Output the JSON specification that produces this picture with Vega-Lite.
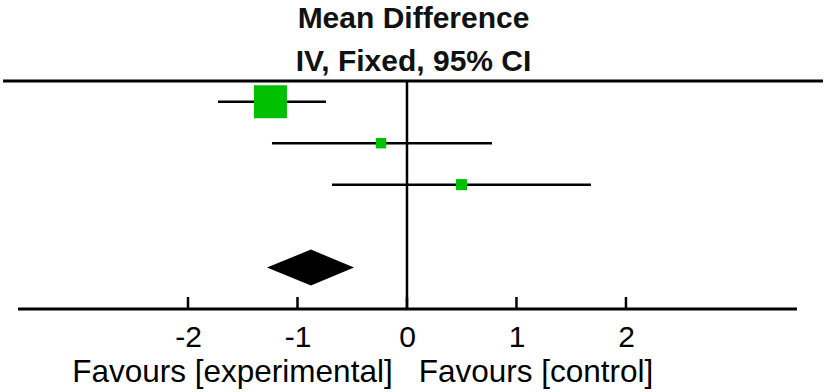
{
  "$schema": "https://vega.github.io/schema/vega-lite/v6.json",
  "width": 827,
  "height": 228,
  "autosize": {"type": "none"},
  "padding": {"top": 81, "bottom": 83, "left": 0, "right": 0},
  "background": "white",
  "config": {"view": {"stroke": null}},
  "title": {
    "text": ["Mean Difference", "IV, Fixed, 95% CI"],
    "font": "Liberation Sans",
    "fontSize": 30,
    "fontWeight": "bold",
    "color": "#111111",
    "anchor": "middle",
    "lineHeight": 43,
    "offset": 3
  },
  "datasets": {
    "hlines": [
      {"x": -3.689, "x2": 3.799, "y": 0.5},
      {"x": -3.553, "x2": 3.562, "y": 6}
    ],
    "vline": [{"x": 0, "y": 0.5, "y2": 6}],
    "ticks": [
      {"x": -2, "y": 6, "y2": 5.71},
      {"x": -1, "y": 6, "y2": 5.71},
      {"x": 0, "y": 6, "y2": 5.71},
      {"x": 1, "y": 6, "y2": 5.71},
      {"x": 2, "y": 6, "y2": 5.71}
    ],
    "studies": [
      {"study": 1, "row": 1, "md": -1.247, "lo": -1.726, "hi": -0.740, "weight": 82.4},
      {"study": 2, "row": 2, "md": -0.237, "lo": -1.233, "hi": 0.776, "weight": 8.3},
      {"study": 3, "row": 3, "md": 0.498, "lo": -0.685, "hi": 1.680, "weight": 9.3}
    ],
    "pooled": [
      {"x": -1.279, "ylo": 5, "yhi": 5},
      {"x": -0.877, "ylo": 4.566, "yhi": 5.434},
      {"x": -0.484, "ylo": 5, "yhi": 5}
    ],
    "labels": [
      {"label": "Favours [experimental]", "x": -1.594, "y": 7.761},
      {"label": "Favours [control]", "x": 1.178, "y": 7.761}
    ]
  },
  "layer": [
    {
      "data": {"name": "hlines"},
      "mark": {"type": "rule", "color": "#000000", "strokeWidth": 3},
      "encoding": {
        "x": {"field": "x", "type": "quantitative",
              "scale": {"domain": [-3.717, 3.836], "nice": false, "zero": false},
              "axis": {"orient": "bottom", "domain": false, "ticks": false, "grid": false,
                       "values": [-2, -1, 0, 1, 2], "labelExpr": "'' + datum.value",
                       "labelFont": "Liberation Sans", "labelFontSize": 30, "labelColor": "#000000",
                       "labelPadding": 13, "title": null}},
        "x2": {"field": "x2"},
        "y": {"field": "y", "type": "quantitative",
              "scale": {"domain": [0.5, 6], "reverse": true, "nice": false, "zero": false},
              "axis": null}
      }
    },
    {
      "data": {"name": "vline"},
      "mark": {"type": "rule", "color": "#000000", "strokeWidth": 2.5},
      "encoding": {
        "x": {"field": "x", "type": "quantitative", "scale": {"domain": [-3.717, 3.836], "nice": false, "zero": false}},
        "y": {"field": "y", "type": "quantitative", "scale": {"domain": [0.5, 6], "reverse": true, "nice": false, "zero": false}},
        "y2": {"field": "y2"}
      }
    },
    {
      "data": {"name": "ticks"},
      "mark": {"type": "rule", "color": "#000000", "strokeWidth": 2.5},
      "encoding": {
        "x": {"field": "x", "type": "quantitative", "scale": {"domain": [-3.717, 3.836], "nice": false, "zero": false}},
        "y": {"field": "y", "type": "quantitative", "scale": {"domain": [0.5, 6], "reverse": true, "nice": false, "zero": false}},
        "y2": {"field": "y2"}
      }
    },
    {
      "data": {"name": "studies"},
      "mark": {"type": "rule", "color": "#000000", "strokeWidth": 2.5},
      "encoding": {
        "x": {"field": "lo", "type": "quantitative", "scale": {"domain": [-3.717, 3.836], "nice": false, "zero": false}},
        "x2": {"field": "hi"},
        "y": {"field": "row", "type": "quantitative", "scale": {"domain": [0.5, 6], "reverse": true, "nice": false, "zero": false}}
      }
    },
    {
      "data": {"name": "studies"},
      "mark": {"type": "point", "shape": "square", "filled": true, "color": "#00c000", "opacity": 1, "strokeWidth": 0},
      "encoding": {
        "x": {"field": "md", "type": "quantitative", "scale": {"domain": [-3.717, 3.836], "nice": false, "zero": false}},
        "y": {"field": "row", "type": "quantitative", "scale": {"domain": [0.5, 6], "reverse": true, "nice": false, "zero": false}},
        "size": {"field": "weight", "type": "quantitative", "scale": {"domain": [0, 100], "range": [0, 1320]}, "legend": null}
      }
    },
    {
      "data": {"name": "pooled"},
      "mark": {"type": "area", "color": "#000000", "opacity": 1},
      "encoding": {
        "x": {"field": "x", "type": "quantitative", "scale": {"domain": [-3.717, 3.836], "nice": false, "zero": false}},
        "y": {"field": "ylo", "type": "quantitative", "scale": {"domain": [0.5, 6], "reverse": true, "nice": false, "zero": false}},
        "y2": {"field": "yhi"}
      }
    },
    {
      "data": {"name": "labels"},
      "mark": {"type": "text", "font": "Liberation Sans", "fontSize": 31.5, "color": "#000000", "align": "center", "baseline": "alphabetic"},
      "encoding": {
        "x": {"field": "x", "type": "quantitative", "scale": {"domain": [-3.717, 3.836], "nice": false, "zero": false}},
        "y": {"field": "y", "type": "quantitative", "scale": {"domain": [0.5, 6], "reverse": true, "nice": false, "zero": false}},
        "text": {"field": "label"}
      }
    }
  ]
}
